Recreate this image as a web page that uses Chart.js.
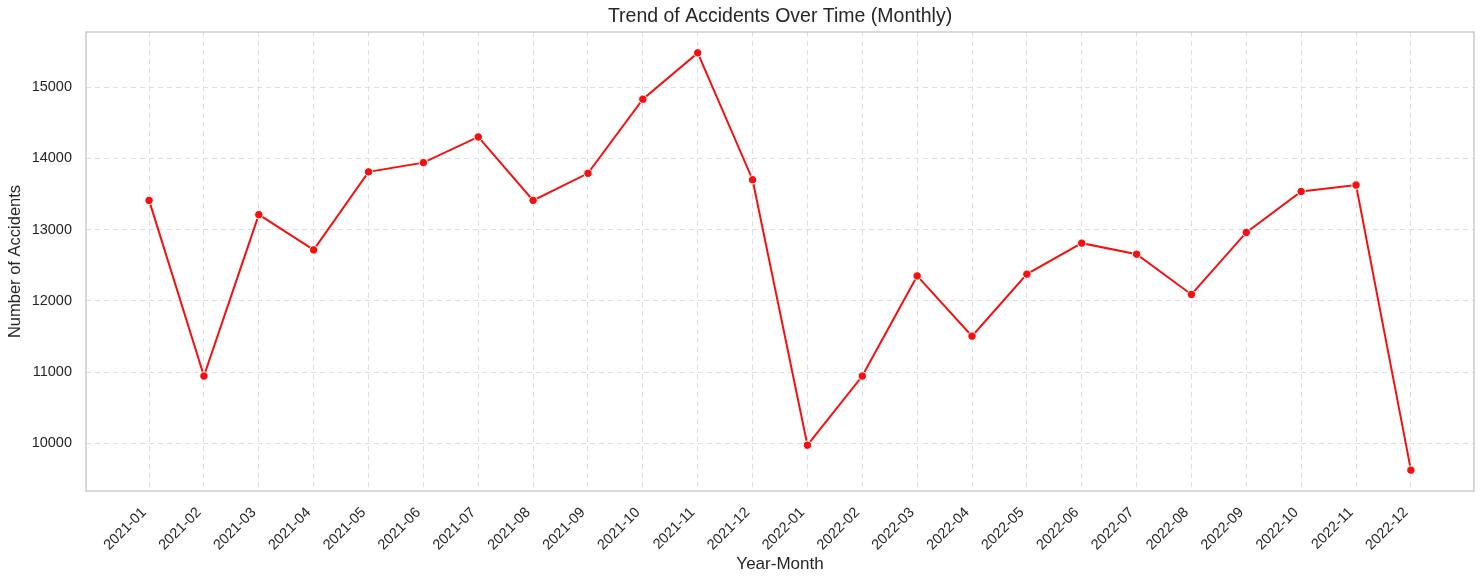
<!DOCTYPE html>
<html>
<head>
<meta charset="utf-8">
<script src="https://cdn.jsdelivr.net/npm/chart.js@4/dist/chart.umd.min.js"></script>
<style>
  html, body { margin:0; padding:0; background:#fff; }
  #wrap { width:1484px; height:584px; position:relative; }
</style>
</head>
<body>
<div id="wrap"><canvas id="chart"></canvas></div>
<script>
// monthly accident counts
const months = [
  '2021-01','2021-02','2021-03','2021-04','2021-05','2021-06',
  '2021-07','2021-08','2021-09','2021-10','2021-11','2021-12',
  '2022-01','2022-02','2022-03','2022-04','2022-05','2022-06',
  '2022-07','2022-08','2022-09','2022-10','2022-11','2022-12'
];
const accidents = [
  13410, 10945, 13210, 12715, 13810, 13940,
  14300, 13410, 13790, 14830, 15480, 13700,
  9975, 10945, 12350, 11505, 12375, 12810,
  12655, 12090, 12960, 13535, 13625, 9625
];
const yTicks = [10000, 11000, 12000, 13000, 14000, 15000];
const TITLE = 'Trend of Accidents Over Time (Monthly)';

const FONT = "'Liberation Sans', Arial, sans-serif";
const INK = '#262626';
const GRID = {color:'#dedede', lineWidth:1, drawTicks:false};
const BORDER = {display:false, dash:[5,4]};

// matplotlib-style 5% margins around the data
const yMin = Math.min(...accidents), yMax = Math.max(...accidents);
const yPad = (yMax - yMin) * 0.05;
const xPad = (months.length - 1) * 0.05;

// spines + title centred over the plot area, like matplotlib does
const frame = {
  id:'frame',
  afterDraw(chart) {
    const {ctx, chartArea:a} = chart;
    ctx.save();
    ctx.strokeStyle = '#cccccc';
    ctx.lineWidth = 1.5;
    ctx.strokeRect(a.left, a.top, a.right - a.left, a.bottom - a.top);
    ctx.fillStyle = INK;
    ctx.font = `19.5px ${FONT}`;
    ctx.textAlign = 'center';
    ctx.textBaseline = 'middle';
    ctx.fillText(TITLE, (a.left + a.right) / 2, 17);
    ctx.restore();
  }
};

new Chart(document.getElementById('chart'), {
  type:'line',
  data:{
    datasets:[{
      label:'Accidents',
      data: accidents.map((v, i) => ({x:i, y:v})),
      borderColor:'#f41010', borderWidth:2,
      pointRadius:4.2, pointBackgroundColor:'#f41010',
      pointBorderColor:'#ffffff', pointBorderWidth:1,
      tension:0, fill:false,
    }]
  },
  options:{
    responsive:true, maintainAspectRatio:false, animation:false,
    layout:{padding:{left:0, right:10, top:32, bottom:0}},
    plugins:{
      legend:{display:false},
      tooltip:{enabled:false},
      title:{display:false},
    },
    scales:{
      x:{
        type:'linear', min:-xPad, max:months.length - 1 + xPad,
        afterBuildTicks: s => { s.ticks = months.map((_, i) => ({value:i})); },
        afterFit: s => { s.height = 93; },
        ticks:{
          color:INK, font:{family:FONT, size:14.5}, padding:13, labelOffset:-5,
          maxRotation:45, minRotation:45, autoSkip:false,
          callback: v => months[v],
        },
        grid:GRID,
        border:BORDER,
        title:{display:true, text:'Year-Month', color:INK,
               font:{family:FONT, size:17}, padding:{top:0, bottom:9}},
      },
      y:{
        type:'linear', min:yMin - yPad, max:yMax + yPad,
        afterBuildTicks: s => { s.ticks = yTicks.map(v => ({value:v})); },
        afterFit: s => { s.width = 86; },
        ticks:{color:INK, font:{family:FONT, size:14.5}, padding:14,
               callback: v => String(v)},
        grid:GRID,
        border:BORDER,
        title:{display:true, text:'Number of Accidents', color:INK,
               font:{family:FONT, size:16.5}, padding:{top:6, bottom:0}},
      }
    }
  },
  plugins:[frame]
});
</script>
</body>
</html>
